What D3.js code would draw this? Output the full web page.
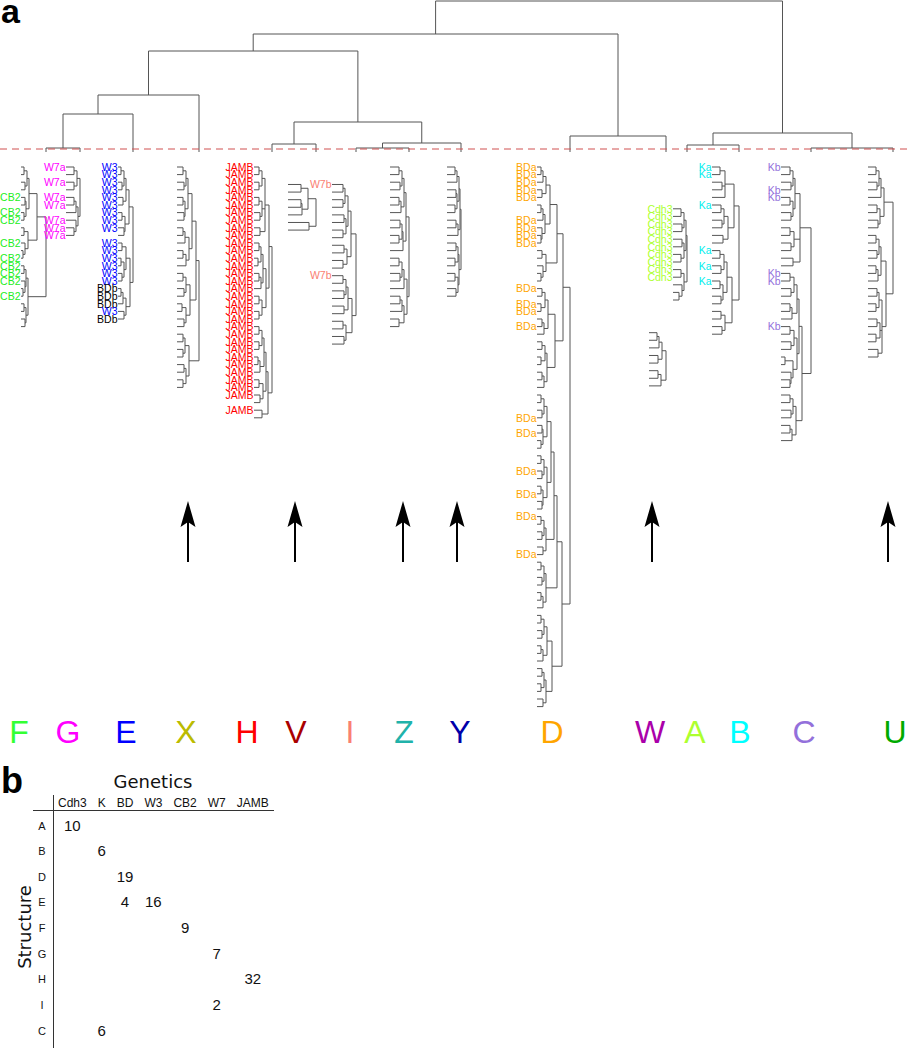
<!DOCTYPE html>
<html><head><meta charset="utf-8">
<script src="https://cdn.jsdelivr.net/npm/d3@7"></script>
<style>body{margin:0;background:#fff;} svg{display:block;}</style>
</head><body>
<svg id="chart" width="910" height="1050"></svg>
<script>
// ================= DATA =================
// Top-level clusters (structure letters) in dendrogram order
const clusterNames  = ["F","G","E","X","H","V","I","Z","Y","D","W","A","B","C","U"];
const clusterColors = ["#33ff33","#ff00ff","#0000ff","#bbbb00","#ff0000","#aa0000","#fa8072","#20b2aa","#0000aa","#ffa500","#aa00aa","#adff2f","#00ffff","#9370db","#00aa00"];
// position of each cluster along the dendrogram axis (order units)
const clusterPos    = [46, 80, 133, 199, 272, 316, 356, 409, 461, 570, 666, 687, 739, 811, 893];
const letterPos     = [19, 68, 126, 186, 247, 296, 350, 404, 460, 552, 650, 695, 740, 804, 895];
// first leaf row of each sub-dendrogram
const clusterRowOffset = [0, 0, 0, 0, 0, 2.3, 2.3, 0, 0, 0, 21.8, 5.5, 0, 0, 0];
// clusters without genetic label (marked by arrows)
const arrowClusters = ["X","V","Z","Y","W","U"];
const arrowPos      = [188, 295, 403, 457, 652, 888];

// Top dendrogram: (children)height
const topTree = "((((((F,G)4,E)38,X)57,((H,V)8,((I,Z)4,Y)9)30)101,(D,W)16)118,((A,B)7,(C,U)4)19)151";

// Leaf label codes
const labelCodes  = {c:"CB2", a:"W7a", w:"W3", b:"BDb", j:"JAMB", v:"W7b", d:"BDa", h:"Cdh3", k:"Ka", m:"Kb"};
const labelColors = {c:"#22ee22", a:"#ff00ff", w:"#0000ff", b:"#000000", j:"#ff0000", v:"#fa8072", d:"#ffa500", h:"#adff2f", k:"#00eeee", m:"#9370db"};

// Sub-dendrograms ( "." = unlabeled leaf )
const treeF = "(((((.,.)3,(.,.)4)6,((c,.)4,(c,c)3)5)8,((.,.)3,(c,(.,c)2)4)7)16,(((c,c)3,(c,(.,c)2)4)5,((.,.)3,(.,.)4)5)7)25";
const treeG = "(((a,.)8,(a,.)8)11,(((a,a)8,.)10,(a,(a,a)8)10)12)14";
const treeE = "(" + "((((w,w)3,(w,w)4)6,(w,w)5)8,((w,w)4,(w,.)6)7)11" + "," + "(((w,w)4,((w,w)3,(w,w)4)6)8,(((b,b)3,b)5,(w,b)6)8)12" + ")15";
const x1 = "(((.,.)6,(.,.)7)9,((.,.)6,(.,.)7)8)11", x2 = "(((.,.)6,.)8,((.,.)6,.)9)12",
      x3 = "(((.,.)6,(.,.)7)9,((.,.)5,(.,.)7)9)13", x4 = "(((.,.)6,(.,.)6)8,((.,.)7,(.,.)6)9)12";
const treeX = "(((" + x1 + "," + x2 + ")15," + x3 + ")19," + x4 + ")22";
const h1a = "(((j,j)5,(j,j)5)8,((j,j)5,(j,j)6)8,(j,j)6)11",
      h1b = "((((j,j)5,(j,j)4)7,((j,j)5,j)7)9,((j,j)5,(j,j)5)8)12",
      h2a = "((((j,j)5,(j,j)5)8,((j,j)4,j)6)10,((j,j)5,(j,.)6)9)12",
      h2b = "(j,.)8";
const treeH = "((" + h1a + "," + h1b + ")15,(" + h2a + "," + h2b + ")14)18";
const treeV = "(((.,.)13,((.,.)13,.)14)20,(.,.)21)28";
const i1 = "((((v,.)11,(.,.)11)13,((.,.)12,(.,.)11)14)16,((.,.)12,(.,.)11)15)19",
      i2 = "((((v,.)11,(.,.)12)14,(.,.)12)16,((.,.)11,(.,.)12)14)20";
const treeI = "(" + i1 + "," + i2 + ")24";
const z1 = "((((.,.)9,(.,.)10)12,((.,.)9,.)11)14,(((.,.)10,(.,.)9)12,.)13)16",
      z2 = "((((.,.)9,(.,.)10)12,.)14,(((.,.)10,.)12,(.,.)9)14)17";
const treeZ = "(" + z1 + "," + z2 + ")19";
const y1 = "((((.,.)8,.)10,((.,.)9,(.,.)8)10)12,((.,.)9,.)11)13",
      y2 = "(((.,.)9,(.,.)8)11,((.,.)8,(.,.)9)11)12";
const treeY = "(" + y1 + "," + y2 + ")14";
const d1a1 = "((((d,d)4,d)6,(d,d)5)9,(((.,.)4,d)6,(d,(d,d)4)5)8)13",
      d1a2 = "((.,.)5,(.,(.,.)4)6)9",
      d1b  = "((((d,.)5,(d,d)4)8,((.,d)5,.)7)11,(((.,.)5,(.,.)4)8,((.,.)5,.)7)10)18",
      d2a1 = "(((.,.)4,(.,d)5)7,((.,d)5,(.,.)4)6)10",
      d2a2 = "(((.,.)4,(d,.)5)7,((.,d)4,(.,.)5)6)10",
      d2a3 = "(((d,.)4,(.,.)5)7,(.,d)6)9",
      d2a4 = "(((.,.)4,(.,.)5)7,((.,.)4,.)6)9",
      d2b  = "((((.,.)4,(.,.)5)7,((.,.)4,.)6)10,(((.,.)5,(.,.)4)7,(.,.)6)9)15";
const treeD = "(((" + d1a1 + "," + d1a2 + ")20," + d1b + ")26,((((" + d2a1 + "," + d2a2 + ")14," + d2a3 + ")17," + d2a4 + ")20," + d2b + ")25)33";
const treeW = "((((.,.)8,.)10,(.,.)9)13,((.,.)9,.)12)17";
const treeA = "((((h,h)8,(h,h)9)11,((h,h)9,(h,h)8)11)13,((h,h)8,(.,(.,.)6)9)11)14";
const b1 = "(((k,k)8,(.,.)10,.)13,(((k,.)9,(.,.)10)12,(.,.)11)16)22",
      b2 = "((((k,.)8,(k,.)9)12,((k,.)8,(.,.)9)11)15,((.,.)9,(.,.)10)13)20";
const treeB = "(" + b1 + "," + b2 + ")27";
const c1  = "((((m,.)9,(.,m)10)12,((m,.)9,(.,.)10)12)14,((.,.)9,(.,.)10)13,(.,.)12)19",
      c2a = "(((m,m)9,(.,.)10)13,((.,.)9,.)11)16",
      c2b = "(((m,.)9,(.,.)10)13,((.,.)4,(.,(.,.)9)10)12)16",
      c2c = "(((.,.)9,(.,.)10)12,((.,.)9,.)11)15";
const treeC = "(" + c1 + ",((" + c2a + "," + c2b + ")18," + c2c + ")21)30";
const u1 = "((((.,.)8,(.,.)9)11,.)13,((.,.)9,(.,.)10)12)16",
      u2 = "((((.,.)8,(.,.)9)11,((.,.)8,.)10)13,(((.,.)9,(.,.)8)11,((.,.)9,(.,.)8)12,(.,.)10)14)18";
const treeU = "(" + u1 + "," + u2 + ")25";
const clusterTrees = [treeF, treeG, treeE, treeX, treeH, treeV, treeI, treeZ, treeY, treeD, treeW, treeA, treeB, treeC, treeU];

// Table b
const tableCols  = ["Cdh3","K","BD","W3","CB2","W7","JAMB"];
const tableRows  = ["A","B","D","E","F","G","H","I","C"];
const tableCells = [["A","Cdh3",10],["B","K",6],["D","BD",19],["E","BD",4],["E","W3",16],["F","CB2",9],["G","W7",7],["H","JAMB",32],["I","W7",2],["C","K",6]];

// ================= DRAWING =================
const W = 910, H = 1050;
const svg = d3.select("#chart");
const lineColor = "#555";

const xScale = d3.scaleLinear().domain([0, 910]).range([0, W]);
const topY   = d3.scaleLinear().domain([0, 151]).range([152, 1]);
const rowY   = d3.scaleLinear().domain([0, 70]).range([167, 167 + 7.6 * 70]);
const hPx    = d3.scaleLinear().domain([0, 1]).range([0, 1]);

function parseTree(s){
  let i = 0;
  function node(){
    if (s[i] === "("){
      i++;
      const children = [node()];
      while (s[i] === ","){ i++; children.push(node()); }
      i++; // ')'
      let num = "";
      while (i < s.length && /[0-9]/.test(s[i])) num += s[i++];
      return {children, h: +num};
    }
    let tok = "";
    while (i < s.length && s[i] !== "," && s[i] !== ")") tok += s[i++];
    return {label: tok, h: 0};
  }
  return node();
}

const gLines = svg.append("g").attr("stroke", lineColor).attr("stroke-width", 1).attr("fill", "none");
function seg(x1, y1, x2, y2){
  gLines.append("line").attr("x1", x1).attr("y1", y1).attr("x2", x2).attr("y2", y2);
}

// --- top dendrogram ---
const topRoot = parseTree(topTree);
(function layoutTop(n){
  if (!n.children){ n.x = xScale(clusterPos[clusterNames.indexOf(n.label)]); n.y = topY(0); return; }
  n.children.forEach(layoutTop);
  n.x = (n.children[0].x + n.children[n.children.length - 1].x) / 2;
  n.y = topY(n.h);
})(topRoot);
(function drawTop(n){
  if (!n.children) return;
  const f = n.children[0], l = n.children[n.children.length - 1];
  seg(f.x, n.y, l.x, n.y);
  n.children.forEach(c => { seg(c.x, n.y, c.x, c.y); drawTop(c); });
})(topRoot);

// cut line
svg.append("line").attr("x1", 0).attr("x2", W).attr("y1", 149).attr("y2", 149)
  .attr("stroke", "#d05050").attr("stroke-width", 1).attr("stroke-dasharray", "7,5");

// --- sub-dendrograms ---
const gLabels = svg.append("g").attr("font-family", "'Liberation Sans', Arial, sans-serif").attr("font-size", 10.5);
clusterTrees.forEach((s, ci) => {
  const root = parseTree(s);
  const rootX = xScale(clusterPos[ci]);
  let idx = 0;
  (function lay(n){
    if (!n.children){
      n.y = rowY(clusterRowOffset[ci] + idx++);
      n.x = rootX - hPx(root.h);
      return;
    }
    n.children.forEach(lay);
    n.y = (n.children[0].y + n.children[n.children.length - 1].y) / 2;
    n.x = rootX - hPx(root.h - n.h);
  })(root);
  (function draw(n){
    if (!n.children){
      if (n.label !== "."){
        gLabels.append("text").attr("x", n.x - 0.5).attr("y", n.y).attr("dy", "0.36em")
          .attr("text-anchor", "end").attr("fill", labelColors[n.label]).text(labelCodes[n.label]);
      }
      return;
    }
    const f = n.children[0], l = n.children[n.children.length - 1];
    seg(n.x, f.y, n.x, l.y);
    n.children.forEach(c => { seg(c.x, c.y, n.x, c.y); draw(c); });
  })(root);
});

// --- arrows ---
const gArr = svg.append("g");
arrowClusters.forEach((name, i) => {
  const x = xScale(arrowPos[i]);
  gArr.append("line").attr("x1", x).attr("x2", x).attr("y1", 562).attr("y2", 520)
    .attr("stroke", "#000").attr("stroke-width", 2);
  gArr.append("path").attr("d", `M${x},501 L${x - 7.5},527 L${x},522 L${x + 7.5},527 Z`).attr("fill", "#000");
});

// --- structure letters ---
svg.append("g").selectAll("text").data(clusterNames).join("text")
  .attr("x", (d, i) => xScale(letterPos[i])).attr("y", 743)
  .attr("text-anchor", "middle").attr("font-family", "'Liberation Sans', Arial, sans-serif")
  .attr("font-size", 32).attr("fill", (d, i) => clusterColors[i]).text(d => d);

// panel letters
svg.append("text").attr("x", 1).attr("y", 23).attr("font-family", "'Liberation Sans', Arial, sans-serif")
  .attr("font-weight", "bold").attr("font-size", 34).text("a");
svg.append("text").attr("x", 1).attr("y", 793).attr("font-family", "'Liberation Sans', Arial, sans-serif")
  .attr("font-weight", "bold").attr("font-size", 36).text("b");

// --- table ---
const gT = svg.append("g").attr("font-family", "'Liberation Sans', Arial, sans-serif").attr("fill", "#111");
const colCenter = {};
let cx = 58;
tableCols.forEach(c => {
  const t = gT.append("text").attr("x", cx).attr("y", 807).attr("font-size", 12).text(c);
  const w = t.node().getComputedTextLength();
  colCenter[c] = cx + w / 2;
  cx += w + 11;
});
const rowScale = d3.scalePoint().domain(tableRows).range([825.5, 1030.5]);
tableRows.forEach(r => {
  gT.append("text").attr("x", 42).attr("y", rowScale(r) + 4).attr("text-anchor", "middle")
    .attr("font-size", 11).text(r);
});
tableCells.forEach(([r, c, v]) => {
  gT.append("text").attr("x", colCenter[c]).attr("y", rowScale(r) + 5).attr("text-anchor", "middle")
    .attr("font-size", 15).text(v);
});
svg.append("line").attr("x1", 33).attr("x2", 274).attr("y1", 810.5).attr("y2", 810.5).attr("stroke", "#333");
svg.append("line").attr("x1", 53.5).attr("x2", 53.5).attr("y1", 795).attr("y2", 1048).attr("stroke", "#333");
svg.append("text").attr("x", 153).attr("y", 788).attr("text-anchor", "middle")
  .attr("font-family", "'DejaVu Sans', sans-serif").attr("font-size", 18).attr("fill", "#111").text("Genetics");
svg.append("text").attr("transform", "translate(31,927) rotate(-90)").attr("text-anchor", "middle")
  .attr("font-family", "'DejaVu Sans', sans-serif").attr("font-size", 18).attr("fill", "#111").text("Structure");
</script>
</body></html>
